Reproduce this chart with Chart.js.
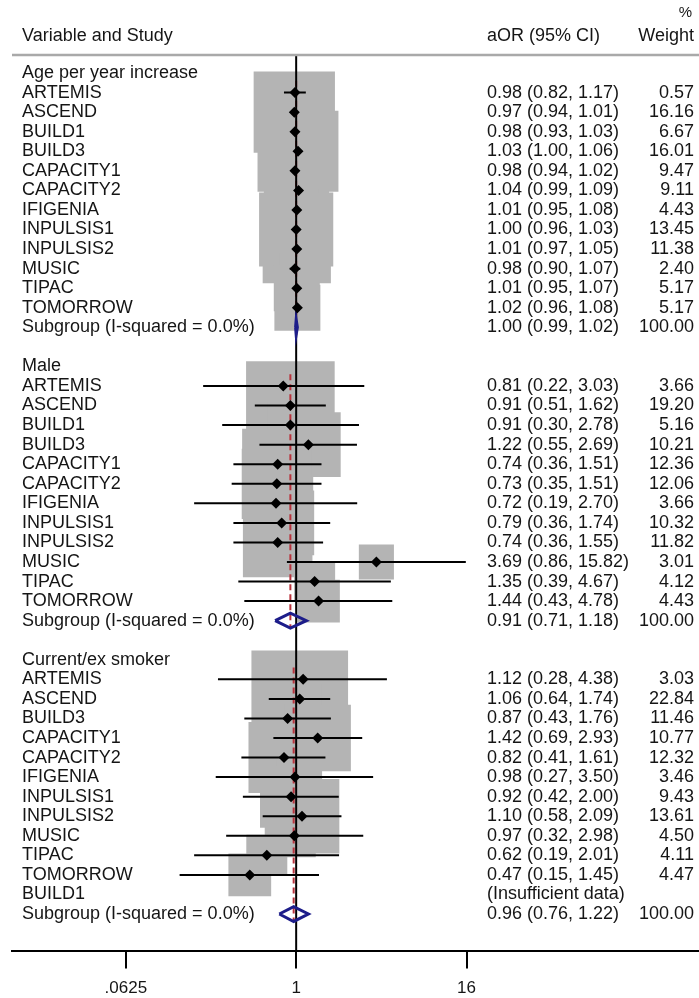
<!DOCTYPE html>
<html><head><meta charset="utf-8">
<script src="https://cdn.jsdelivr.net/npm/chart.js@4.4.1/dist/chart.umd.min.js"></script>
<style>html,body{margin:0;padding:0;background:#fff;}#wrap{width:699px;height:998px;position:relative;}</style>
</head><body><div id="wrap"><canvas id="c" width="699" height="998"></canvas></div>
<script>
// ---------- data ----------
const groupNames = ['Age per year increase', 'Male', 'Current/ex smoker'];

const ageStudies = ['ARTEMIS','ASCEND','BUILD1','BUILD3','CAPACITY1','CAPACITY2','IFIGENIA','INPULSIS1','INPULSIS2','MUSIC','TIPAC','TOMORROW'];
const ageOR = [0.98,0.97,0.98,1.03,0.98,1.04,1.01,1.00,1.01,0.98,1.01,1.02];
const ageLo = [0.82,0.94,0.93,1.00,0.94,0.99,0.95,0.96,0.97,0.90,0.95,0.96];
const ageHi = [1.17,1.01,1.03,1.06,1.02,1.09,1.08,1.03,1.05,1.07,1.07,1.08];
const ageW  = [0.57,16.16,6.67,16.01,9.47,9.11,4.43,13.45,11.38,2.40,5.17,5.17];
const agePooled = [1.00, 0.99, 1.02];

const maleStudies = ['ARTEMIS','ASCEND','BUILD1','BUILD3','CAPACITY1','CAPACITY2','IFIGENIA','INPULSIS1','INPULSIS2','MUSIC','TIPAC','TOMORROW'];
const maleOR = [0.81,0.91,0.91,1.22,0.74,0.73,0.72,0.79,0.74,3.69,1.35,1.44];
const maleLo = [0.22,0.51,0.30,0.55,0.36,0.35,0.19,0.36,0.36,0.86,0.39,0.43];
const maleHi = [3.03,1.62,2.78,2.69,1.51,1.51,2.70,1.74,1.55,15.82,4.67,4.78];
const maleW  = [3.66,19.20,5.16,10.21,12.36,12.06,3.66,10.32,11.82,3.01,4.12,4.43];
const malePooled = [0.91, 0.71, 1.18];

const smokStudies = ['ARTEMIS','ASCEND','BUILD3','CAPACITY1','CAPACITY2','IFIGENIA','INPULSIS1','INPULSIS2','MUSIC','TIPAC','TOMORROW','BUILD1'];
const smokOR = [1.12,1.06,0.87,1.42,0.82,0.98,0.92,1.10,0.97,0.62,0.47,null];
const smokLo = [0.28,0.64,0.43,0.69,0.41,0.27,0.42,0.58,0.32,0.19,0.15,null];
const smokHi = [4.38,1.74,1.76,2.93,1.61,3.50,2.00,2.09,2.98,2.01,1.45,null];
const smokW  = [3.03,22.84,11.46,10.77,12.32,3.46,9.43,13.61,4.50,4.11,4.47,null];
const smokPooled = [0.96, 0.76, 1.22];

const subgroupLabel = 'Subgroup (I-squared = 0.0%)';
const insufficientLabel = '(Insufficient data)';
const tickValues = [0.0625, 1, 16];
const tickLabels = ['.0625', '1', '16'];

// ---------- layout constants ----------
const X_MIN = 0.0098, X_MAX = 704;
const Y_MIN = -0.923, Y_MAX = 44.87;
const FONT = '"Liberation Sans", Arial, Helvetica, sans-serif';
const BOX_K = 14.3;      // px radius per sqrt(weight)
const DIAMOND_H = 0.38;  // row units

// ---------- build rows ----------
const groups = [
  {name: groupNames[0], st: ageStudies, or: ageOR, lo: ageLo, hi: ageHi, w: ageW, pooled: agePooled},
  {name: groupNames[1], st: maleStudies, or: maleOR, lo: maleLo, hi: maleHi, w: maleW, pooled: malePooled},
  {name: groupNames[2], st: smokStudies, or: smokOR, lo: smokLo, hi: smokHi, w: smokW, pooled: smokPooled}
];
const textRows = [];
const boxData = [], boxRadius = [], markData = [], ciSets = [], diamondSets = [], redSets = [];
let r = 0;
const fmtCI = (a,b,c) => `${a.toFixed(2)} (${b.toFixed(2)}, ${c.toFixed(2)})`;
groups.forEach(g => {
  const head = r;
  textRows.push({row: r, label: g.name});
  g.st.forEach((s, i) => {
    const row = r + 1 + i;
    if (g.or[i] == null) {
      textRows.push({row, label: s, ci: insufficientLabel, w: ''});
      return;
    }
    textRows.push({row, label: s, ci: fmtCI(g.or[i], g.lo[i], g.hi[i]), w: g.w[i].toFixed(2)});
    boxData.push({x: g.or[i], y: row});
    boxRadius.push(BOX_K * Math.sqrt(g.w[i]));
    markData.push({x: g.or[i], y: row});
    ciSets.push({type:'scatter', data: [{x: g.lo[i], y: row}, {x: g.hi[i], y: row}], showLine: true,
      borderColor: '#000', borderWidth: 2, pointRadius: 0, order: 5});
  });
  const sub = r + 1 + g.st.length;
  const p = g.pooled;
  textRows.push({row: sub, label: subgroupLabel, ci: fmtCI(p[0], p[1], p[2]), w: (100).toFixed(2)});
  diamondSets.push({type:'scatter', showLine: true, data: [
      {x: p[1], y: sub}, {x: p[0], y: sub - DIAMOND_H}, {x: p[2], y: sub}, {x: p[0], y: sub + DIAMOND_H}, {x: p[1], y: sub}],
    borderColor: '#1d1d8a', borderWidth: 3, pointRadius: 0, fill: false, order: 4});
  redSets.push({type:'scatter', showLine: true, data: [{x: p[0], y: head + 0.4}, {x: p[0], y: sub + 0.4}],
    borderColor: '#b8323c', borderWidth: 2, borderDash: [6, 4], pointRadius: 0, order: 7});
  r = sub + 2;
});

const datasets = [
  {type:'scatter', data: markData, pointStyle: 'rectRot', pointRadius: 5.5, backgroundColor: '#000', borderColor: '#000', borderWidth: 0, order: 1},
  ...diamondSets,
  ...ciSets,
  {type:'scatter', showLine: true, data: [{x: 1, y: Y_MIN}, {x: 1, y: Y_MAX}], borderColor: '#000', borderWidth: 2, pointRadius: 0, order: 6},
  ...redSets,
  {type:'scatter', data: boxData, pointStyle: 'rect', pointRadius: boxRadius, backgroundColor: '#b4b4b4', borderWidth: 0, order: 10}
];

const textPlugin = {
  id: 'forestText',
  afterDraw(chart) {
    const ctx = chart.ctx, ys = chart.scales.y;
    ctx.save();
    ctx.strokeStyle = '#a9a9a9';
    ctx.lineWidth = 2.5;
    ctx.beginPath(); ctx.moveTo(12, 55); ctx.lineTo(699, 55); ctx.stroke();
    ctx.fillStyle = '#151515';
    ctx.textBaseline = 'middle';
    ctx.font = '18px ' + FONT;
    ctx.textAlign = 'left';
    ctx.fillText('Variable and Study', 22, 36);
    ctx.fillText('aOR (95% CI)', 487, 36);
    ctx.textAlign = 'right';
    ctx.fillText('Weight', 694, 36);
    ctx.font = '15px ' + FONT;
    ctx.fillText('%', 692, 13);
    ctx.font = '18px ' + FONT;
    textRows.forEach(t => {
      const y = ys.getPixelForValue(t.row);
      ctx.textAlign = 'left';
      ctx.fillText(t.label, 22, y);
      if (t.ci) ctx.fillText(t.ci, 487, y);
      if (t.w) { ctx.textAlign = 'right'; ctx.fillText(t.w, 694, y); }
    });
    ctx.restore();
  }
};

new Chart(document.getElementById('c'), {
  type: 'scatter',
  data: { datasets },
  options: {
    responsive: false, animation: false, events: [],
    layout: { autoPadding: false, padding: { left: 12, right: 0, top: 55, bottom: -11 } },
    plugins: { legend: { display: false }, tooltip: { enabled: false } },
    elements: { line: { tension: 0 } },
    scales: {
      x: {
        type: 'logarithmic', min: X_MIN, max: X_MAX, position: 'bottom',
        afterBuildTicks: s => { s.ticks = tickValues.map(v => ({value: v})); },
        ticks: { callback: (v, i) => tickLabels[i], font: {size: 17, family: FONT}, color: '#151515', padding: 10, maxRotation: 0, autoSkip: false },
        grid: { drawOnChartArea: false, drawTicks: true, tickLength: 18, color: '#000', lineWidth: 2 },
        border: { display: true, color: '#000', width: 2 }
      },
      y: { type: 'linear', reverse: true, min: Y_MIN, max: Y_MAX, display: false }
    }
  },
  plugins: [textPlugin]
});
</script>
</body></html>
